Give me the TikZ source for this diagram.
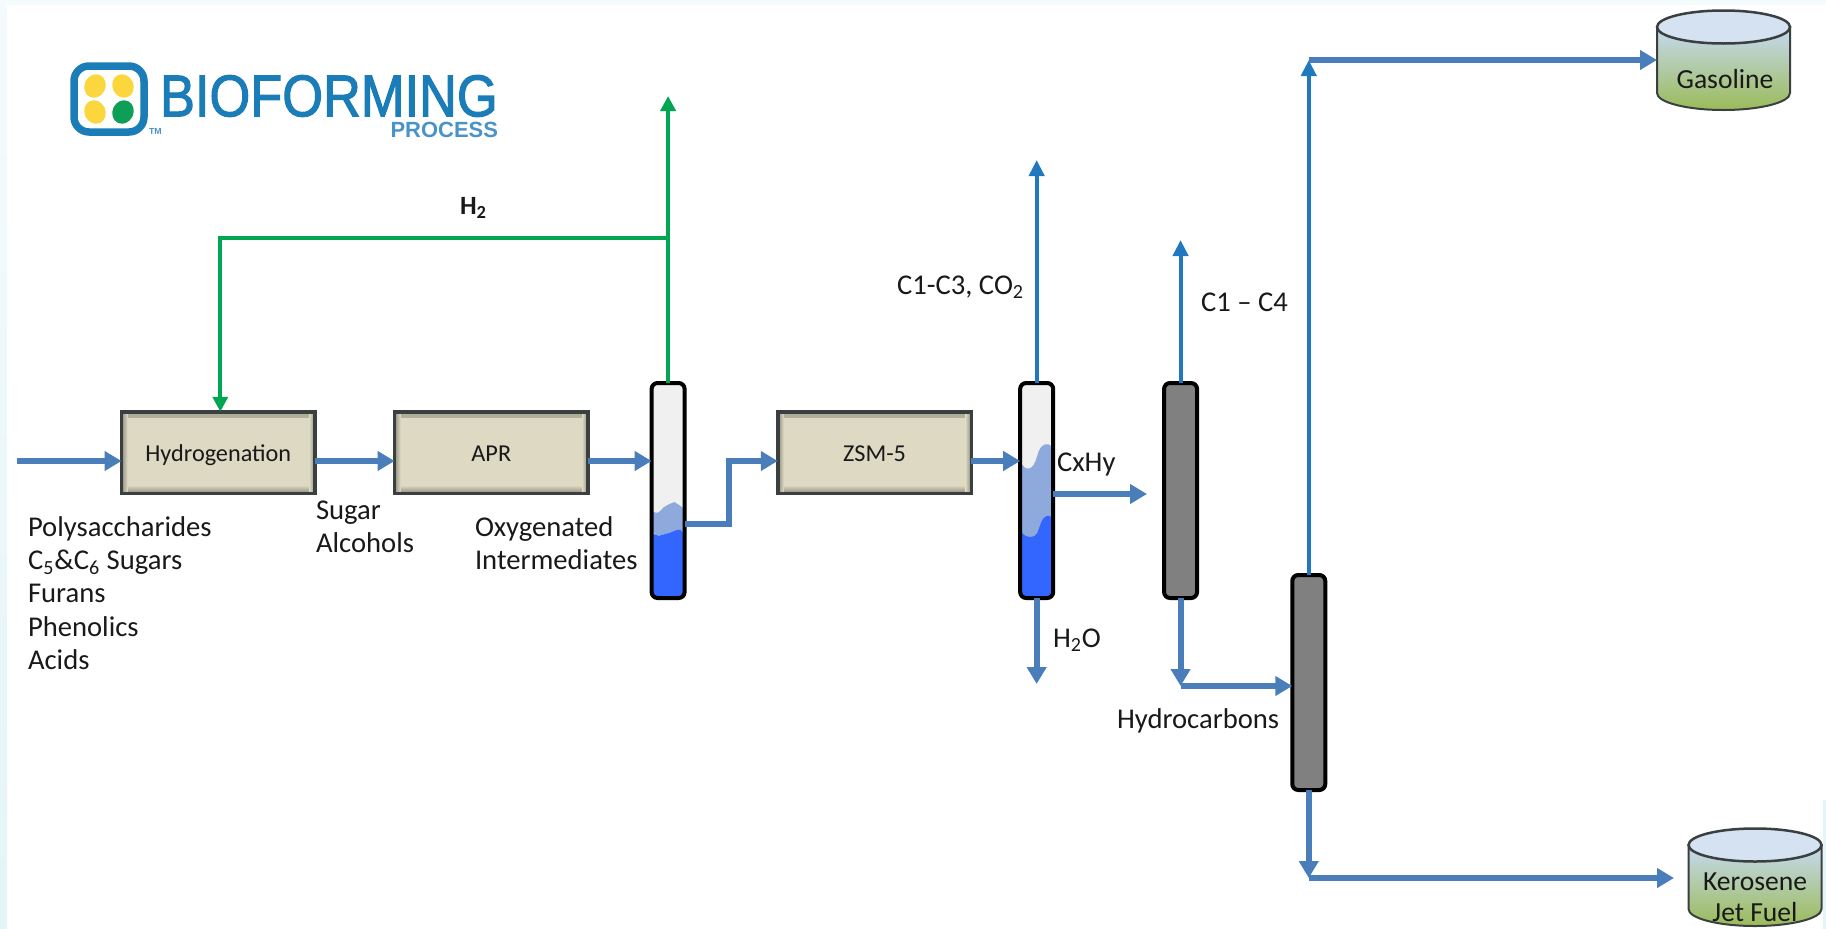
\documentclass[tikz,border=0pt]{standalone}
\usepackage{fontspec}
\setmainfont{Carlito}
\newfontfamily\logofont{Liberation Sans}
\newfontfamily\logoheavy[FakeBold=2]{Liberation Sans}
\usetikzlibrary{positioning,arrows.meta,shapes.geometric}
\definecolor{flowblue}{HTML}{4A7EBB}
\definecolor{ventblue}{HTML}{1F78C0}
\definecolor{hgreen}{HTML}{00A651}
\definecolor{boxface}{HTML}{DDD9C3}
\definecolor{boxedge}{HTML}{8D8B7C}
\definecolor{boxlight}{HTML}{F1EEDF}
\definecolor{boxline}{HTML}{3A3F3F}
\definecolor{tanktop}{HTML}{D5E2F2}
\definecolor{tankbody}{HTML}{C6D9F1}
\definecolor{tankfoot}{HTML}{9BBB59}
\definecolor{liqlight}{HTML}{8EA9DB}
\definecolor{liqdark}{HTML}{3366FF}
\definecolor{logoblue}{HTML}{1B7DB8}
\definecolor{logopale}{HTML}{4A93C8}
\definecolor{logoyellow}{HTML}{FBD63C}
\definecolor{logogreen}{HTML}{0E9F57}
\definecolor{edgetint}{HTML}{E4F4F8}
\begin{document}
\begin{tikzpicture}[x=0.2mm,y=-0.2mm,
    flow/.style={draw=flowblue,line width=1.2mm,-{Triangle[length=3.4mm,width=3.8mm]}},
    vent/.style={draw=ventblue,line width=.8mm,-{Triangle[length=3.2mm,width=3mm]}},
    hline/.style={draw=hgreen,line width=.8mm,-{Triangle[length=3mm,width=3mm]}},
    procbox/.style={rectangle,draw=boxline,line width=.7mm,fill=boxface,minimum width=38.7mm,minimum height=16.3mm,text height=4.6mm,text depth=1mm,font=\fontsize{13.8}{16}\selectfont,
      path picture={
        \shade[top color=boxedge!60!boxface,bottom color=boxlight] (path picture bounding box.north west) rectangle ([yshift=-1.2mm]path picture bounding box.north east);
        \shade[top color=boxface,bottom color=boxedge] ([yshift=1.6mm]path picture bounding box.south west) rectangle (path picture bounding box.south east);
        \shade[left color=boxedge,right color=boxface] (path picture bounding box.north west) rectangle ([xshift=1.2mm]path picture bounding box.south west);
        \shade[left color=boxface,right color=boxedge] ([xshift=-1.2mm]path picture bounding box.north east) rectangle (path picture bounding box.south east);
      }},
    column/.style={rectangle,draw=black,line width=.8mm,rounded corners=1.2mm,minimum width=6.6mm,minimum height=43mm},
    tankspot/.style={rectangle,minimum width=26.6mm},
    tankwall/.style={draw=boxline,line width=.4mm,top color=tankbody,middle color=tankbody,bottom color=tankfoot},
    lid/.style={ellipse,draw=boxline,line width=.5mm,fill=tanktop,minimum width=26.6mm,minimum height=6.6mm},
    petal/.style={ellipse,minimum width=4.2mm,minimum height=4.8mm}]
  \tikzset{every node/.style={align=left,inner sep=0pt,outer sep=0pt,text=black!90,font=\fontsize{16.3}{18.9}\selectfont}}
  \useasboundingbox (0,0) rectangle (1826,929);
  \shade[top color=edgetint!40,bottom color=edgetint] (0,0) rectangle (7,929);
  \fill[edgetint!40] (0,0) rectangle (1826,5);
  \fill[edgetint] (1823,800) rectangle (1826,929);

  \node[rectangle,draw=logoblue,line width=1.5mm,rounded corners=3mm,fill=white,minimum width=14mm,minimum height=13.2mm] (logobox) at (109,99) {};
  \node[petal,fill=logoyellow,rotate=-25] (petala) at (95,86) {};
  \node[petal,fill=logoyellow,rotate=25] (petalb) at (123,86) {};
  \node[petal,fill=logoyellow,rotate=25] (petalc) at (95,112) {};
  \node[petal,fill=logogreen,rotate=-25] (petald) at (123,112) {};
  \node[anchor=west,text=logoblue,xscale=.89,font=\logoheavy\fontsize{33.5}{36}\selectfont] (logoname) at (160,96) {BIOFORMING};
  \node[anchor=east,text=logopale,font=\logofont\bfseries\fontsize{12.5}{14}\selectfont] (logosub) at (498,130) {PROCESS};
  \node[anchor=west,text=logopale,font=\logofont\bfseries\fontsize{5}{6}\selectfont] (logotm) at (149,131) {TM};

  \node[procbox] (hyd) at (218.3,452.5) {Hydrogenation};
  \node[procbox,right=15.9mm of hyd] (apr) {APR};
  \node[column,fill=black!6,right=12.71mm of apr,yshift=-7.6mm,
    path picture={
      \fill[liqlight] (-17.5,19.5) .. controls (-9.5,23.5) and (-5.5,17.5) .. (.5,13.5) .. controls (6.5,11.5) and (12.5,15.5) .. (17.5,18.5) -- (17.5,43.5) .. controls (10.5,37.5) and (4.5,41.5) .. (-3.5,43.5) .. controls (-9.5,45.5) and (-13.5,43.5) .. (-17.5,41.5) -- cycle;
      \fill[liqdark] (-17.5,41.5) .. controls (-13.5,43.5) and (-9.5,45.5) .. (-3.5,43.5) .. controls (4.5,41.5) and (10.5,37.5) .. (17.5,43.5) -- (17.5,108.5) -- (-17.5,108.5) -- cycle;
    }] (col1) {};
  \node[procbox,right=18.63mm of col1,yshift=7.6mm] (zsm) {ZSM-5};
  \node[column,fill=black!6,right=9.78mm of zsm,yshift=-7.6mm,
    path picture={
      \fill[liqlight] (-17.5,-30.5) .. controls (-9.5,-18.5) and (-3.5,-22.5) .. (.5,-34.5) .. controls (4.5,-46.5) and (12.5,-48.5) .. (17.5,-38.5) -- (17.5,31.5) .. controls (12.5,23.5) and (6.5,25.5) .. (2.5,37.5) .. controls (-1.5,47.5) and (-11.5,47.5) .. (-17.5,37.5) -- cycle;
      \fill[liqdark] (-17.5,37.5) .. controls (-11.5,47.5) and (-1.5,47.5) .. (2.5,37.5) .. controls (6.5,25.5) and (12.5,23.5) .. (17.5,31.5) -- (17.5,108.5) -- (-17.5,108.5) -- cycle;
    }] (col2) {};
  \node[column,fill=black!50,right=22.18mm of col2] (col3) {};
  \node[column,fill=black!50,right=19.04mm of col3,yshift=-38.4mm] (col4) {};

  \node[tankspot,minimum height=13.2mm] (gas) at (1723.5,60) {};
  \shade[tankwall] (gas.north west) -- (gas.south west) arc[start angle=180,end angle=0,x radius=66.5,y radius=17] -- (gas.north east) -- cycle;
  \node[lid] (gaslid) at (1723.5,27) {};
  \node[tankspot,minimum height=12.8mm] (ker) at (1755,877) {};
  \shade[tankwall] (ker.north west) -- (ker.south west) arc[start angle=180,end angle=0,x radius=66.5,y radius=17] -- (ker.north east) -- cycle;
  \node[lid] (kerlid) at (1755,845) {};
  \node[font=\fontsize{15.7}{18}\selectfont] (gastext) at (1725,79) {Gasoline};
  \node[align=center,font=\fontsize{15.7}{17.7}\selectfont] (kertext) at (1755,897) {Kerosene\\Jet Fuel};

  \node[anchor=west] (feedtext) at (28,593) {Polysaccharides\\C\textsubscript{5}\&C\textsubscript{6} Sugars\\Furans\\Phenolics\\Acids};
  \node[anchor=west] (sugartext) at (316,527) {Sugar\\Alcohols};
  \node[anchor=west] (oxytext) at (475,543) {Oxygenated\\Intermediates};
  \node[anchor=west,font=\bfseries\fontsize{15}{18}\selectfont] (htext) at (460,208) {H\textsubscript{2}};
  \node[anchor=west] (lighttext) at (897,287) {C1-C3, CO\textsubscript{2}};
  \node[anchor=west] (gastwotext) at (1201,302) {C1 -- C4};
  \node[anchor=west] (cxtext) at (1057,465) {CxHy};
  \node[anchor=west] (watertext) at (1053,640) {H\textsubscript{2}O};
  \node[anchor=west] (hctext) at (1117,721) {Hydrocarbons};

  \coordinate (feedin) at (17,461);
  \coordinate (cxout) at (1147,494);
  \coordinate (waterout) at (1035,684);
  \coordinate (lightout) at (1036,160);
  \coordinate (gastwoout) at (1181,240);
  \coordinate (hcin) at (1181,686);
  \coordinate (kerin) at (1308,878);
  \coordinate (kerend) at (1674,878);
  \coordinate (htop) at (668,96);
  \coordinate (hturn) at (668,238);

  \draw[hline] (col1.north) -- (col1.north |- htop);
  \draw[hline] (col1.north |- hturn) -| ([xshift=.4mm]hyd.north);
  \draw[flow] (feedin) -- (feedin -| hyd.west);
  \draw[flow] (feedin -| hyd.east) -- (feedin -| apr.west);
  \draw[flow] (feedin -| apr.east) -- (feedin -| col1.west);
  \draw[flow] ([yshift=-6.7mm]col1.east) -- ++(8.8mm,0) |- (feedin -| zsm.west);
  \draw[flow] (feedin -| zsm.east) -- (feedin -| col2.west);
  \draw[flow] (cxout -| col2.east) -- (cxout);
  \draw[flow] (col2.south) -- (col2.south |- waterout);
  \draw[vent] (col2.north) -- (col2.north |- lightout);
  \draw[vent] (col3.north) -- (col3.north |- gastwoout);
  \draw[flow] (col3.south) -- (col3.south |- hcin);
  \draw[flow] (col3.south |- hcin) -- (hcin -| col4.west);
  \draw[vent] (col4.north) -- (col4.north |- gas.west);
  \draw[flow] (col4.north |- gas.west) -- (gas.west);
  \draw[flow] (col4.south) -- (col4.south |- kerin);
  \draw[flow] (col4.south |- kerin) -- (kerend);
\end{tikzpicture}
\end{document}
